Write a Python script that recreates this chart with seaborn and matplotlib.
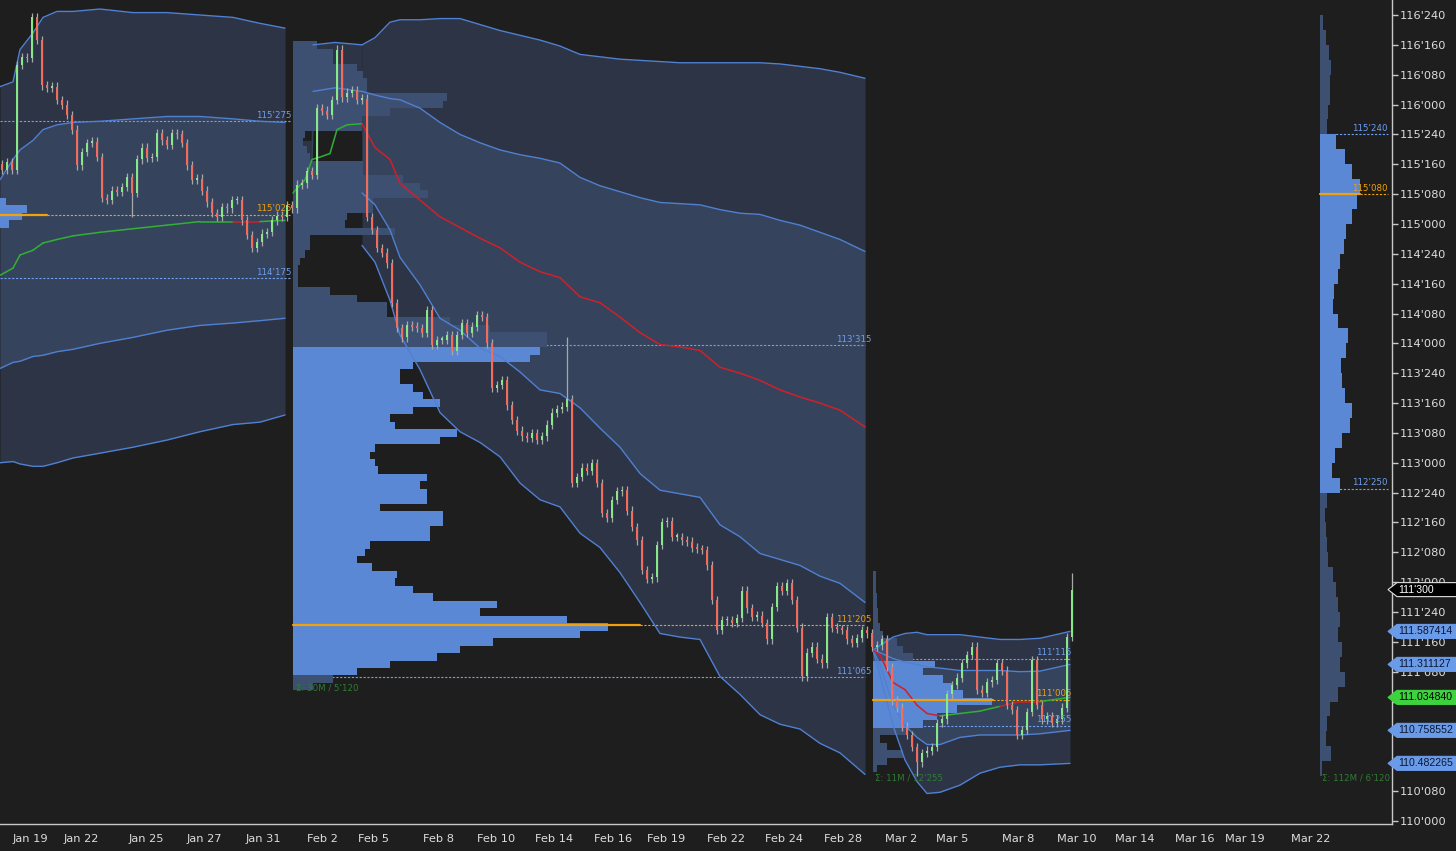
import numpy as np
import matplotlib
matplotlib.use("Agg")
import matplotlib.pyplot as plt
import matplotlib.transforms as mtransforms
from matplotlib.patches import Polygon
from matplotlib.ticker import FixedLocator, FuncFormatter
import seaborn as sns

# ------------------------------------------------------------------ data
date_labels = ["Jan 19", "Jan 22", "Jan 25", "Jan 27", "Jan 31", "Feb 2", "Feb 5", "Feb 8",
               "Feb 10", "Feb 14", "Feb 16", "Feb 19", "Feb 22", "Feb 24", "Feb 28", "Mar 2",
               "Mar 5", "Mar 8", "Mar 10", "Mar 14", "Mar 16", "Mar 19", "Mar 22"]
date_bars = [5.6, 15.8, 28.8, 40.4, 52.2, 64.0, 74.2, 87.2, 98.8, 110.4, 122.2, 132.8, 144.8,
             156.4, 168.2, 179.8, 190.0, 203.2, 215.0, 226.6, 238.6, 248.6, 261.8]

close = [
    115.45, 115.52, 115.45, 116.33, 116.40, 116.39, 116.73, 116.54, 116.16, 116.14,
    116.15, 116.04, 116.00, 115.91, 115.79, 115.49, 115.60, 115.68, 115.69, 115.56,
    115.22, 115.20, 115.28, 115.27, 115.31, 115.39, 115.26, 115.54, 115.64, 115.55,
    115.56, 115.76, 115.70, 115.66, 115.76, 115.75, 115.68, 115.49, 115.37, 115.38,
    115.28, 115.18, 115.09, 115.06, 115.14, 115.13, 115.20, 115.20, 115.03, 114.91,
    114.80, 114.85, 114.92, 114.93, 115.03, 115.07, 115.06, 115.16, 115.13,
    115.33, 115.34, 115.44, 115.41, 115.97, 115.95, 115.91, 116.04, 116.46, 116.06,
    116.10, 116.12, 116.04, 116.05, 115.06, 114.95, 114.80, 114.76, 114.67, 114.34,
    114.13, 114.05, 114.15, 114.14, 114.13, 114.09, 114.28, 113.99, 114.03, 114.03,
    114.07, 113.94, 114.07, 114.17, 114.09, 114.14, 114.24, 114.22, 114.00, 113.63,
    113.65, 113.69, 113.48, 113.36, 113.27, 113.22, 113.21, 113.25, 113.19, 113.22,
    113.32, 113.42, 113.45, 113.47, 113.53, 112.83, 112.88, 112.96, 112.93, 113.00,
    112.83, 112.58, 112.54, 112.69, 112.76, 112.77, 112.60, 112.46, 112.35, 112.10,
    112.03, 112.04, 112.31, 112.50, 112.51, 112.38, 112.38, 112.35, 112.34, 112.29,
    112.28, 112.27, 112.14, 111.85, 111.60, 111.68, 111.68, 111.66, 111.70, 111.93,
    111.78, 111.71, 111.72, 111.66, 111.52, 111.79, 111.97, 111.93, 111.99, 111.85,
    111.62, 111.21, 111.41, 111.46, 111.36, 111.32, 111.71, 111.62, 111.61, 111.60,
    111.52, 111.49, 111.53, 111.60,
    111.57, 111.46, 111.47, 111.52, 111.29, 111.01, 110.95, 110.79, 110.72, 110.62,
    110.49, 110.57, 110.59, 110.62, 110.82, 110.85, 111.06, 111.14, 111.20, 111.32,
    111.39, 111.46, 111.10, 111.07, 111.16, 111.18, 111.32, 111.26, 110.97, 110.93,
    110.72, 110.76, 110.91, 111.35, 110.97, 110.85, 110.88, 110.82, 110.85, 110.95,
    111.54, 111.9375]
spike_hi_bar = [6, 67, 113, 214]
spike_hi = [116.75, 116.50, 114.05, 112.08]
spike_lo_bar = [26, 160, 183]
spike_lo = [115.06, 111.18, 110.38]

# session A bands
a_x = [-0.4, 2.2, 3.6, 6.2, 8.2, 11.0, 14.2, 19.6, 26.2, 33.0, 39.6, 46.2, 51.6, 56.6]
a_up2 = [116.15, 116.19, 116.46, 116.60, 116.73, 116.78, 116.78, 116.80, 116.77, 116.77, 116.75, 116.73, 116.68, 116.64]
a_up1 = [115.37, 115.54, 115.62, 115.70, 115.79, 115.83, 115.85, 115.86, 115.88, 115.90, 115.90, 115.88, 115.86, 115.85]
a_vwap = [114.57, 114.63, 114.74, 114.78, 114.84, 114.87, 114.90, 114.93, 114.96, 114.99, 115.02, 115.02, 115.02, 115.03]
a_dn1 = [113.79, 113.84, 113.85, 113.89, 113.90, 113.93, 113.95, 114.00, 114.05, 114.11, 114.15, 114.17, 114.19, 114.21]
a_dn2 = [113.00, 113.01, 112.99, 112.97, 112.97, 113.00, 113.04, 113.08, 113.13, 113.19, 113.26, 113.32, 113.34, 113.40]
a_vwap_col = ["g"] * 11 + ["r", "g", "g"]

# early part of session B (Feb 2 - Feb 5)
b0_x = [58.2, 61.8, 62.2, 66.6, 72.0]
b0_up2 = [115.70, 115.70, 116.50, 116.52, 116.50]
b0_up1 = [115.54, 115.54, 116.11, 116.14, 116.11]
b0_dn1 = [115.10, 115.10, 115.83, 115.81, 115.81]
b0_dn2 = [115.02, 115.02, 115.79, 115.79, 115.79]
b0_vwap_x = [58.2, 60.6, 62.0, 63.6, 65.6, 67.0, 69.0, 72.0]
b0_vwap = [115.26, 115.37, 115.54, 115.56, 115.59, 115.79, 115.83, 115.84]

# session B bands
b_x = [72.0, 74.6, 77.6, 79.6, 83.6, 87.6, 91.6, 95.6, 99.6, 103.6, 107.6, 111.6, 115.6, 119.6,
       123.6, 127.6, 131.6, 135.6, 139.6, 143.6, 147.6, 151.6, 155.6, 159.6, 163.6, 167.6, 172.6]
b_up2 = [116.50, 116.56, 116.69, 116.71, 116.71, 116.72, 116.72, 116.67, 116.62, 116.58, 116.54, 116.49, 116.42, 116.40,
         116.38, 116.37, 116.36, 116.35, 116.35, 116.35, 116.35, 116.35, 116.34, 116.32, 116.30, 116.27, 116.22]
b_up1 = [116.11, 116.08, 116.05, 116.04, 115.97, 115.85, 115.75, 115.68, 115.62, 115.58, 115.55, 115.51, 115.39, 115.32,
         115.27, 115.22, 115.18, 115.17, 115.16, 115.12, 115.09, 115.08, 115.03, 114.99, 114.93, 114.87, 114.77]
b_vwap = [115.84, 115.64, 115.54, 115.34, 115.20, 115.06, 114.97, 114.88, 114.80, 114.68, 114.60, 114.55, 114.39, 114.34,
          114.22, 114.09, 113.99, 113.97, 113.94, 113.80, 113.75, 113.69, 113.61, 113.55, 113.50, 113.44, 113.30]
b_dn1 = [115.26, 115.16, 114.95, 114.72, 114.49, 114.21, 114.11, 113.96, 113.89, 113.76, 113.61, 113.58, 113.46, 113.29,
         113.13, 112.91, 112.77, 112.74, 112.71, 112.48, 112.38, 112.24, 112.19, 112.14, 112.05, 111.99, 111.83]
b_dn2 = [114.82, 114.68, 114.36, 114.07, 113.78, 113.42, 113.26, 113.17, 113.05, 112.83, 112.69, 112.63, 112.41, 112.29,
         112.08, 111.83, 111.57, 111.54, 111.52, 111.21, 111.06, 110.89, 110.81, 110.77, 110.65, 110.57, 110.39]

# session C bands
c_x = [174.2, 175.6, 178.2, 180.6, 183.0, 185.0, 187.6, 191.6, 195.6, 199.6, 203.6, 207.6, 213.6]
c_up2 = [111.43, 111.47, 111.54, 111.57, 111.58, 111.56, 111.56, 111.56, 111.54, 111.52, 111.52, 111.53, 111.587414]
c_up1 = [111.43, 111.41, 111.36, 111.33, 111.31, 111.29, 111.28, 111.26, 111.26, 111.26, 111.25, 111.255, 111.311127]
c_vwap = [111.43, 111.39, 111.16, 111.10, 110.97, 110.90, 110.88, 110.90, 110.92, 110.96, 111.00, 111.00, 111.034840]
c_dn1 = [111.43, 111.31, 110.97, 110.80, 110.70, 110.64, 110.64, 110.70, 110.72, 110.72, 110.72, 110.73, 110.758552]
c_dn2 = [111.43, 111.22, 110.80, 110.51, 110.33, 110.23, 110.24, 110.30, 110.40, 110.45, 110.47, 110.47, 110.482265]
c_vwap_col = ["r", "r", "r", "r", "r", "r", "g", "g", "g", "r", "r", "g", "g"]

# volume profiles (volume units)
profA_top, profA_step = 115.1875, 0.0625
profA_vol = [6, 27, 22, 9]
profB_top, profB_step = 116.50, 0.0625
profB_vol = [24, 40, 40, 64, 70, 74, 74, 154, 150, 97, 69, 69, 12, 10, 14, 17, 70, 70, 110, 127,
             135, 80, 80, 54, 52, 102, 17, 17, 12, 7, 5, 5, 5, 37, 64, 94, 94, 157, 197, 254,
             254, 247, 237, 120, 107, 107, 120, 130, 147, 120, 97, 102, 164, 147, 82, 77, 82, 85, 134, 127,
             134, 134, 87, 150, 150, 137, 137, 77, 72, 64, 79, 104, 102, 120, 140, 204, 187, 274, 315, 287,
             200, 167, 144, 97, 64, 40, 20]
profC_top, profC_step = 112.0625, 0.0625
profC_vol = [3, 3, 3, 4, 4, 5, 5, 7, 10, 24, 30, 40, 62, 50, 70, 80, 90, 119, 84, 64, 50, 34, 7, 14, 30, 14, 4]
profD_top, profD_step = 116.6875, 0.125
profD_vol = [3, 6, 9, 11, 10, 10, 8, 7, 16, 25, 32, 40, 37, 32, 26, 24, 20, 18, 14, 13,
             18, 28, 26, 21, 22, 25, 32, 30, 22, 15, 12, 20, 7, 5, 6, 7, 8, 13, 16, 18,
             20, 18, 22, 20, 25, 18, 10, 7, 6, 11, 2]

# value areas / points of control (VAH, POC, VAL)
levels_A = [115.859375, 115.078125, 114.546875]
levels_B = [113.984375, 111.640625, 111.203125]
levels_C = [111.359375, 111.015625, 110.796875]
levels_D = [115.75, 115.25, 112.78125]
sigma_texts = ["Σ: 30M / 5'120", "Σ: 11M / 12'255", "Σ: 112M / 6'120"]

mark_vals = [111.9375, 111.587414, 111.311127, 111.034840, 110.758552, 110.482265]
hidden_ticks = [111.0, 110.75, 110.5]

# ------------------------------------------------------------------ style
BG = "#1e1e1e"
OUTER = "#2d3446"
INNER = "#35445c"
BANDLINE = "#4f80d2"
VA_BLUE = "#5b88d4"
NONVA = "#3e5072"
ORANGE = "#f0a20c"
LBL_BLUE = "#6e9ff0"
RED = "#d0202a"
GREEN = "#32b034"
UPC = "#86e886"
DNC = "#f26b5b"
WICK = "#a8a8a8"
AXC = "#c8c8c8"

sns.set_theme(style="dark", rc={"axes.facecolor": BG, "figure.facecolor": BG})
plt.rcParams["font.family"] = ["DejaVu Sans"]

fig = plt.figure(figsize=(14.56, 8.51), dpi=100, facecolor=BG)
ax = fig.add_axes([0, 27 / 851, 1392 / 1456, 824 / 851])
ax.set_facecolor(BG)
ax.set_xlim(-0.4, 278.0)
ax.set_ylim(116.75 - 809 / 119.4, 116.75 + 15 / 119.4)


def fmt32(v, pos=None):
    whole = int(np.floor(v + 1e-9))
    n = int(round((v - whole) * 320))
    return f"{whole}'{n:03d}"


def tickfmt(v, pos=None):
    if any(abs(v - h) < 1e-6 for h in hidden_ticks):
        return ""
    return fmt32(v)


def line(xs, ys, color, lw=1.0, z=3, ls="-"):
    sns.lineplot(x=xs, y=ys, color=color, linewidth=lw, ax=ax, zorder=z, legend=False,
                 sort=False, estimator=None, linestyle=ls)


def bands(xs, up2, up1, dn1, dn2, draw_lines=True):
    ax.fill_between(xs, dn2, up2, color=OUTER, lw=0, zorder=1)
    ax.fill_between(xs, dn1, up1, color=INNER, lw=0, zorder=1.1)
    if draw_lines:
        for ys in (up2, up1, dn1, dn2):
            line(xs, ys, BANDLINE, lw=1.0, z=3)


def vwap(xs, ys, cols):
    for i in range(len(xs) - 1):
        c = GREEN if cols[i] == "g" else RED
        ax.plot(xs[i:i + 2], ys[i:i + 2], color=c, lw=1.1, zorder=3.2, solid_capstyle="round")


bands(a_x, a_up2, a_up1, a_dn1, a_dn2)
vwap(a_x, a_vwap, a_vwap_col)
bands(b0_x, b0_up2, b0_up1, b0_dn1, b0_dn2, draw_lines=False)
line(b0_x[2:], b0_up2[2:], BANDLINE, lw=1.0, z=3)
line(b0_x[2:], b0_up1[2:], BANDLINE, lw=1.0, z=3)
line(b0_vwap_x, b0_vwap, GREEN, lw=1.1, z=3.2)
bands(b_x, b_up2, b_up1, b_dn1, b_dn2)
line(b_x, b_vwap, RED, lw=1.1, z=3.2)
bands(c_x, c_up2, c_up1, c_dn1, c_dn2)
vwap(c_x, c_vwap, c_vwap_col)


def profile(base, top, step, vols, vah, val, scale=0.2):
    vols = np.asarray(vols, float)
    prices = top - step * np.arange(len(vols))
    inva = (prices <= vah + 1e-9) & (prices >= val - 1e-9)
    cols = np.where(inva, VA_BLUE, NONVA)
    ax.barh(prices, vols * scale, height=step, left=base, color=cols, lw=0, zorder=2)


profile(-0.4, profA_top, profA_step, profA_vol, levels_A[0], levels_A[2])
profile(58.2, profB_top, profB_step, profB_vol, levels_B[0], levels_B[2])
profile(174.2, profC_top, profC_step, profC_vol, levels_C[0], levels_C[2])
profile(263.6, profD_top, profD_step, profD_vol, levels_D[0], levels_D[2])

# level lines + labels: (levels, x0, poc solid end, x1, label x)
sections = [(levels_A, -0.4, 9.0, 57.6, 58.0),
            (levels_B, 58.2, 127.6, 172.6, 174.0),
            (levels_C, 174.2, 198.2, 213.6, 214.0),
            (levels_D, 263.6, 271.6, 277.2, 277.2)]
for lv, x0, xs, x1, xl in sections:
    vah, poc, val = lv
    for v in (vah, val):
        ax.plot([x0, x1], [v, v], color=LBL_BLUE, lw=0.8, ls=(0, (2, 1.5)), zorder=1.5)
        ax.text(xl, v + 0.012, fmt32(v), color=LBL_BLUE, fontsize=6.2, ha="right", va="bottom", zorder=6)
    ax.plot([x0, xs], [poc, poc], color=ORANGE, lw=1.6, zorder=3.5)
    ax.plot([xs, x1], [poc, poc], color=ORANGE, lw=0.8, ls=(0, (2, 1.5)), zorder=1.5)
    ax.text(xl, poc + 0.012, fmt32(poc), color=ORANGE, fontsize=6.2, ha="right", va="bottom", zorder=3.9)

ax.text(58.8, 111.15, sigma_texts[0], color="#2e7d32", fontsize=6.2, ha="left", va="top", zorder=6)
ax.text(174.6, 110.395, sigma_texts[1], color="#2e7d32", fontsize=6.2, ha="left", va="top", zorder=6)
ax.text(264.0, 110.395, sigma_texts[2], color="#2e7d32", fontsize=6.2, ha="left", va="top", zorder=6)

# candles
c = np.asarray(close, float)
o = np.r_[c[0] + 0.05, c[:-1]]
wick = 0.035
hi = np.maximum(o, c) + wick
lo = np.minimum(o, c) - wick
for b, v in zip(spike_hi_bar, spike_hi):
    hi[b] = max(hi[b], v)
for b, v in zip(spike_lo_bar, spike_lo):
    lo[b] = min(lo[b], v)
idx = np.arange(len(c))
ax.vlines(idx, lo, hi, color=WICK, lw=0.9, zorder=4)
up = c >= o
body = np.maximum(np.abs(c - o), 0.012)
ax.bar(idx[up], body[up], bottom=o[up], width=0.5, color=UPC, lw=0, zorder=4.1)
ax.bar(idx[~up], body[~up], bottom=c[~up], width=0.5, color=DNC, lw=0, zorder=4.1)

# axes styling
for s in ("top", "left"):
    ax.spines[s].set_visible(False)
for s in ("right", "bottom"):
    ax.spines[s].set_color(AXC)
    ax.spines[s].set_linewidth(1.0)
ax.yaxis.tick_right()
ax.yaxis.set_major_locator(FixedLocator(np.arange(110.0, 116.76, 0.25)))
ax.yaxis.set_major_formatter(FuncFormatter(tickfmt))
ax.tick_params(axis="y", colors=AXC, labelcolor="#dddddd", labelsize=8.2, length=4, width=1, pad=1.5, direction="out")
ax.set_xticks(date_bars)
ax.set_xticklabels(date_labels)
ax.tick_params(axis="x", colors=AXC, labelcolor="#dddddd", labelsize=8.2, length=3, width=1, pad=7, direction="in")
ax.grid(False)
ax.set_xlabel("")
ax.set_ylabel("")

# right-side price markers
trans = mtransforms.blended_transform_factory(ax.transAxes, ax.transData)
W = 1392.0
hh = 7 / 119.4
mark_face = ["#000000", "#6a9be8", "#6a9be8", "#3ed23e", "#6a9be8", "#6a9be8"]
mark_edge = ["#e0e0e0", "#6a9be8", "#6a9be8", "#3ed23e", "#6a9be8", "#6a9be8"]
mark_tc = ["#ffffff", "#0b1733", "#0b1733", "#000000", "#0b1733", "#0b1733"]
for k, v in enumerate(mark_vals):
    txt = fmt32(v) if k == 0 else f"{v:.6f}"
    x0, x1, x2 = 1388 / W, 1397 / W, 1460 / W
    poly = Polygon([[x0, v], [x1, v + hh], [x2, v + hh], [x2, v - hh], [x1, v - hh]], closed=True,
                   transform=trans, facecolor=mark_face[k], edgecolor=mark_edge[k], lw=0.8,
                   clip_on=False, zorder=20)
    ax.add_patch(poly)
    ax.text(1398.5 / W, v, txt, transform=trans, color=mark_tc[k], fontsize=7.6, ha="left",
            va="center", zorder=21, clip_on=False, family=["Liberation Sans", "DejaVu Sans"])

fig.savefig("out.png", dpi=100, facecolor=BG)
